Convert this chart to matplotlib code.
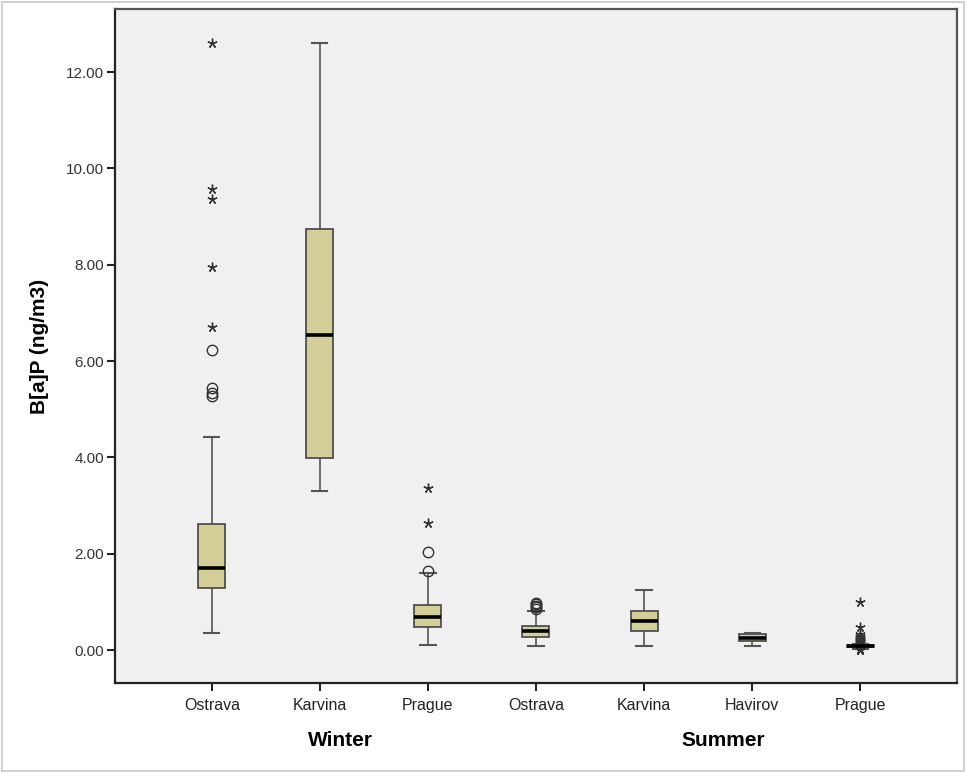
import matplotlib.pyplot as plt
from matplotlib.patches import Rectangle

# Box summaries (ng/m3)
labels = ["Ostrava", "Karvina", "Prague", "Ostrava", "Karvina", "Havirov", "Prague"]
seasons = ["Winter", "Summer"]
whislo = [0.35, 3.30, 0.10, 0.09, 0.09, 0.09, 0.03]
q1 = [1.29, 3.98, 0.48, 0.27, 0.39, 0.19, 0.06]
med = [1.70, 6.55, 0.68, 0.39, 0.60, 0.26, 0.08]
q3 = [2.62, 8.75, 0.93, 0.49, 0.82, 0.33, 0.10]
whishi = [4.43, 12.60, 1.59, 0.81, 1.25, 0.35, 0.13]

# outliers: circles (mild) and stars (extreme), per box
circles = [
    [5.27, 5.34, 5.43, 6.23],
    [],
    [1.64, 2.04],
    [0.85, 0.89, 0.92, 0.95, 0.97],
    [],
    [],
    [],
]
stars = [
    [6.70, 7.96, 9.37, 9.58, 12.60],
    [],
    [2.64, 3.37],
    [],
    [],
    [],
    [0.00, 0.01, 0.02, 0.14, 0.15, 0.16, 0.17, 0.18, 0.19, 0.20, 0.21, 0.22,
     0.23, 0.25, 0.27, 0.30, 0.33, 0.48, 1.00],
]

box_face = "#D4CF99"
edge = "#444444"

fig = plt.figure(figsize=(9.66, 7.73), dpi=100)
fig.patches.append(Rectangle((0.002, 0.002), 0.996, 0.996, transform=fig.transFigure,
                             fill=False, edgecolor="#C8C8C8", linewidth=1.2))
ax = fig.add_axes([0.119, 0.1164, 0.8717, 0.872])
ax.set_facecolor("#F0F0F0")

positions = list(range(1, len(labels) + 1))
stats = []
for i in range(len(labels)):
    stats.append(dict(med=med[i], q1=q1[i], q3=q3[i], whislo=whislo[i],
                      whishi=whishi[i], fliers=[]))

ax.bxp(stats, positions=positions, widths=0.25, capwidths=0.14, patch_artist=True,
       showfliers=False,
       boxprops=dict(facecolor=box_face, edgecolor=edge, linewidth=1.2),
       medianprops=dict(color="black", linewidth=2.6),
       whiskerprops=dict(color="#555555", linewidth=1.2),
       capprops=dict(color="#555555", linewidth=1.5))

for i, p in enumerate(positions):
    if circles[i]:
        ax.plot([p] * len(circles[i]), circles[i], linestyle="none", marker="o",
                markersize=7.5, markerfacecolor="none", markeredgecolor="#333333",
                markeredgewidth=1.0)
    if stars[i]:
        ax.plot([p] * len(stars[i]), stars[i], linestyle="none", marker=(5, 2, 0),
                markersize=7, color="#333333", markeredgewidth=1.0)

ax.set_xlim(0.103, 7.897)
ax.set_ylim(-0.685, 13.31)
ax.set_yticks([0, 2, 4, 6, 8, 10, 12])
ax.set_yticklabels([f"{v:.2f}" for v in [0, 2, 4, 6, 8, 10, 12]],
                   fontsize=11, family="Liberation Sans", color="#333333")
ax.set_xticks(positions)
ax.set_xticklabels(labels, fontsize=11.5, family="Liberation Sans", color="#222222")
ax.tick_params(axis="both", direction="out", length=6, width=1.5, color="#222222")
ax.tick_params(axis="x", pad=5)
ax.tick_params(axis="y", pad=2)

for side in ["left", "bottom"]:
    ax.spines[side].set_color("#222222")
    ax.spines[side].set_linewidth(1.6)
for side in ["top", "right"]:
    ax.spines[side].set_color("#555555")
    ax.spines[side].set_linewidth(1.6)

ax.set_ylabel("B[a]P (ng/m3)", fontsize=15, fontweight="bold",
              family="Liberation Sans", labelpad=12)

# season labels under the category names
fig.text(340 / 966, 1 - 741 / 773, seasons[0], ha="center", va="center", fontsize=15,
         fontweight="bold", family="Liberation Sans")
fig.text(723 / 966, 1 - 741 / 773, seasons[1], ha="center", va="center", fontsize=15,
         fontweight="bold", family="Liberation Sans")

fig.savefig("out.png", dpi=100)
